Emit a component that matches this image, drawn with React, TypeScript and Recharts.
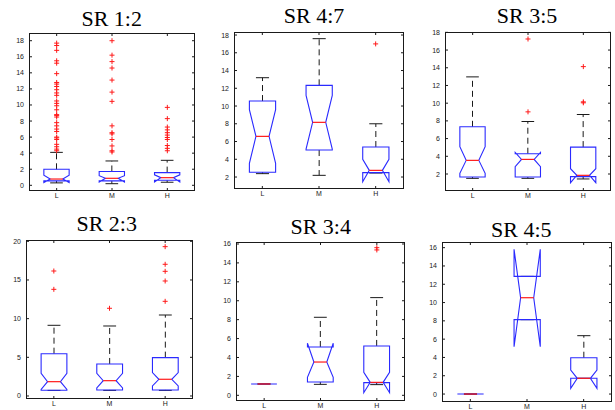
import React from 'react';
import { ComposedChart, Bar, Scatter, XAxis, YAxis, CartesianGrid } from 'recharts';

const categories = ['L', 'M', 'H'];
const titles = ['SR 1:2', 'SR 4:7', 'SR 3:5', 'SR 2:3', 'SR 3:4', 'SR 4:5'];

const ticks0to18 = [0, 2, 4, 6, 8, 10, 12, 14, 16, 18];
const ticks2to18 = [2, 4, 6, 8, 10, 12, 14, 16, 18];
const ticks0to20 = [0, 5, 10, 15, 20];
const ticks0to16 = [0, 2, 4, 6, 8, 10, 12, 14, 16];

// SR 1:2
const sr12WhiskerLow = [0.3, 0.2, 0.38];
const sr12Q1 = [0.55, 0.55, 0.62];
const sr12NotchLow = [0.35, 0.4, 0.42];
const sr12Median = [0.78, 0.87, 0.95];
const sr12NotchHigh = [1.25, 1.2, 1.3];
const sr12Q3 = [1.99, 1.72, 1.58];
const sr12WhiskerHigh = [4.1, 3.03, 3.11];
const sr12OutL = [17.7, 17.4, 16.8, 15.5, 15.2, 13.9, 12.8, 12.6, 12.3, 11.9, 11.5, 11.2, 10.5, 10.2, 9.9, 9.4, 8.8, 8.7, 8.5, 7.8, 7.4, 7.0, 6.7, 6.0, 5.9, 5.7, 5.1, 4.8, 4.5, 4.3];
const sr12OutM = [18.0, 16.2, 15.4, 14.6, 13.1, 11.6, 10.45, 7.4, 6.55, 6.4, 5.7, 4.9, 4.3, 4.15];
const sr12OutH = [9.7, 8.3, 7.25, 6.9, 6.55, 6.25, 5.95, 5.7, 4.95, 4.6, 4.3];

// SR 4:7
const sr47WhiskerLow = [2.38, 2.19, 2.45];
const sr47Q1 = [2.53, 5.04, 2.49];
const sr47NotchLow = [3.55, 5.15, 1.47];
const sr47Median = [6.58, 8.16, 2.75];
const sr47NotchHigh = [9.6, 11.2, 4.0];
const sr47Q3 = [10.56, 12.33, 5.38];
const sr47WhiskerHigh = [13.19, 17.59, 8.0];
const sr47OutL: number[] = [];
const sr47OutM: number[] = [];
const sr47OutH = [17.0];

// SR 3:5
const sr35WhiskerLow = [1.51, 1.51, 1.44];
const sr35Q1 = [1.66, 1.66, 1.7];
const sr35NotchLow = [2.07, 2.83, 1.02];
const sr35Median = [3.54, 3.65, 1.85];
const sr35NotchHigh = [5.08, 4.44, 2.6];
const sr35Q3 = [7.33, 4.29, 5.04];
const sr35WhiskerHigh = [12.97, 7.93, 8.72];
const sr35OutL: number[] = [];
const sr35OutM = [17.25, 9.02];
const sr35OutH = [14.13, 10.15, 10.04];

// SR 2:3
const sr23WhiskerLow = [0.72, 0.72, 0.72];
const sr23Q1 = [0.75, 0.78, 0.78];
const sr23NotchLow = [0.85, 1.05, 1.3];
const sr23Median = [1.85, 1.98, 2.16];
const sr23NotchHigh = [2.93, 2.93, 3.02];
const sr23Q3 = [5.47, 4.14, 4.96];
const sr23WhiskerHigh = [9.14, 9.05, 10.47];
const sr23OutL = [16.16, 13.79];
const sr23OutM = [11.34];
const sr23OutH = [19.31, 17.03, 16.12, 14.87, 12.24];

// SR 3:4
const sr34WhiskerLow = [1.2, 1.16, 1.13];
const sr34Q1 = [1.2, 1.41, 1.34];
const sr34NotchLow = [1.2, 1.9, 0.28];
const sr34Median = [1.2, 3.52, 1.37];
const sr34NotchHigh = [1.2, 5.5, 2.43];
const sr34Q3 = [1.2, 5.11, 5.22];
const sr34WhiskerHigh = [1.2, 8.25, 10.33];
const sr34OutL: number[] = [];
const sr34OutM: number[] = [];
const sr34OutH = [15.61, 15.37];

// SR 4:5
const sr45WhiskerLow = [0, 8.13, 1.72];
const sr45Q1 = [0, 8.13, 1.72];
const sr45NotchLow = [0, 5.17, 0.62];
const sr45Median = [0, 10.53, 1.72];
const sr45NotchHigh = [0, 15.82, 2.62];
const sr45Q3 = [0, 12.86, 3.97];
const sr45WhiskerHigh = [0, 12.86, 6.38];
const sr45OutL: number[] = [];
const sr45OutM: number[] = [];
const sr45OutH: number[] = [];

type Stats = {
  wlo: number[]; q1: number[]; nlo: number[]; med: number[]; nhi: number[]; q3: number[]; whi: number[];
  out: number[][];
};

const panelStats: Stats[] = [
  { wlo: sr12WhiskerLow, q1: sr12Q1, nlo: sr12NotchLow, med: sr12Median, nhi: sr12NotchHigh, q3: sr12Q3, whi: sr12WhiskerHigh, out: [sr12OutL, sr12OutM, sr12OutH] },
  { wlo: sr47WhiskerLow, q1: sr47Q1, nlo: sr47NotchLow, med: sr47Median, nhi: sr47NotchHigh, q3: sr47Q3, whi: sr47WhiskerHigh, out: [sr47OutL, sr47OutM, sr47OutH] },
  { wlo: sr35WhiskerLow, q1: sr35Q1, nlo: sr35NotchLow, med: sr35Median, nhi: sr35NotchHigh, q3: sr35Q3, whi: sr35WhiskerHigh, out: [sr35OutL, sr35OutM, sr35OutH] },
  { wlo: sr23WhiskerLow, q1: sr23Q1, nlo: sr23NotchLow, med: sr23Median, nhi: sr23NotchHigh, q3: sr23Q3, whi: sr23WhiskerHigh, out: [sr23OutL, sr23OutM, sr23OutH] },
  { wlo: sr34WhiskerLow, q1: sr34Q1, nlo: sr34NotchLow, med: sr34Median, nhi: sr34NotchHigh, q3: sr34Q3, whi: sr34WhiskerHigh, out: [sr34OutL, sr34OutM, sr34OutH] },
  { wlo: sr45WhiskerLow, q1: sr45Q1, nlo: sr45NotchLow, med: sr45Median, nhi: sr45NotchHigh, q3: sr45Q3, whi: sr45WhiskerHigh, out: [sr45OutL, sr45OutM, sr45OutH] },
];

// layout: frame (page px), axis domain, ticks, title position
const panelLayout = [
  { l: 29, t: 33, r: 195, b: 191, domain: [-0.71, 18.96], ticks: ticks0to18, tx: 111.7, ty: 26 },
  { l: 234, t: 32, r: 404, b: 189, domain: [0.65, 18.34], ticks: ticks2to18, tx: 314, ty: 22.7 },
  { l: 445, t: 32, r: 611, b: 191, domain: [0.08, 18.04], ticks: ticks2to18, tx: 527, ty: 23.3 },
  { l: 26, t: 240, r: 193, b: 399, domain: [-0.39, 20.17], ticks: ticks0to20, tx: 106.7, ty: 231 },
  { l: 236, t: 242, r: 405, b: 401, domain: [-0.6, 16.21], ticks: ticks0to16, tx: 320.7, ty: 234.3 },
  { l: 442, t: 242, r: 612, b: 402, domain: [-0.87, 16.62], ticks: ticks0to16, tx: 521.3, ty: 236.7 },
];

const BLUE = '#2a2aff';
const RED = '#ff1a1a';
const INK = '#1a1a1a';
const YW = 30;
const XH = 20;
const MT = 6;
const SANS = "'Liberation Sans', Arial, sans-serif";
const SERIF = "'Liberation Serif', 'Times New Roman', 'DejaVu Serif', serif";

const BoxShape = (props: any) => {
  const { x, y, width, height, payload, dom } = props;
  const [d0, d1] = dom;
  const py = (v: number) => y + (height * (d1 - v)) / (d1 - d0);
  const cx = x + width / 2;
  const bw = width * 0.46;
  const hw = bw / 2;
  const iw = bw / 4;
  const cw = bw * 0.25;
  const { wlo, q1, nlo, med, nhi, q3, whi } = payload;
  const L = cx - hw;
  const R = cx + hw;
  const pts = [
    [L, py(q1)], [L, py(nlo)], [cx - iw, py(med)], [L, py(nhi)], [L, py(q3)],
    [R, py(q3)], [R, py(nhi)], [cx + iw, py(med)], [R, py(nlo)], [R, py(q1)],
  ].map((p) => p.join(',')).join(' ');
  return (
    <g>
      {whi > q3 && <line x1={cx} x2={cx} y1={py(q3)} y2={py(whi)} stroke={INK} strokeDasharray="6 4" />}
      {wlo < q1 && <line x1={cx} x2={cx} y1={py(q1)} y2={py(wlo)} stroke={INK} strokeDasharray="6 4" />}
      <line x1={cx - cw} x2={cx + cw} y1={py(whi)} y2={py(whi)} stroke={INK} />
      <line x1={cx - cw} x2={cx + cw} y1={py(wlo)} y2={py(wlo)} stroke={INK} />
      <polygon points={pts} fill="none" stroke={BLUE} strokeWidth={1.1} />
      <line x1={cx - iw} x2={cx + iw} y1={py(med)} y2={py(med)} stroke={RED} strokeWidth={1.2} />
    </g>
  );
};

const Plus = (props: any) => {
  const { cx, cy } = props;
  if (cx == null || cy == null) return null;
  const s = 2.5;
  return (
    <g>
      <line x1={cx - s} x2={cx + s} y1={cy} y2={cy} stroke={RED} />
      <line x1={cx} x2={cx} y1={cy - s} y2={cy + s} stroke={RED} />
    </g>
  );
};

const Panel = ({ idx }: { idx: number }) => {
  const lay = panelLayout[idx];
  const st = panelStats[idx];
  const PW = lay.r - lay.l;
  const PH = lay.b - lay.t;
  const W = YW + PW + 2;
  const H = MT + PH + XH;
  const rows = categories.map((cat, i) => ({
    cat,
    wlo: st.wlo[i], q1: st.q1[i], nlo: st.nlo[i], med: st.med[i], nhi: st.nhi[i], q3: st.q3[i], whi: st.whi[i],
    span: lay.domain,
  }));
  const outRows = categories.flatMap((cat, i) => st.out[i].map((v) => ({ cat, v })));

  const YTick = (p: any) => {
    const yy = p.y;
    return (
      <g>
        <text x={YW - 5} y={yy} dy={2.5} textAnchor="end" fontSize={7} fontFamily={SANS} fill={INK}>
          {p.payload.value}
        </text>
        <line x1={YW} x2={YW + 3} y1={yy} y2={yy} stroke={INK} />
        <line x1={YW + PW - 3} x2={YW + PW} y1={yy} y2={yy} stroke={INK} />
      </g>
    );
  };
  const XTick = (p: any) => {
    const xx = p.x;
    return (
      <g>
        <text x={xx} y={MT + PH + 7} textAnchor="middle" fontSize={7} fontFamily={SANS} fill={INK}>
          {p.payload.value}
        </text>
        <line x1={xx} x2={xx} y1={MT + PH} y2={MT + PH - 3} stroke={INK} />
        <line x1={xx} x2={xx} y1={MT} y2={MT + 3} stroke={INK} />
      </g>
    );
  };

  return (
    <div style={{ position: 'absolute', left: lay.l - YW, top: lay.t - MT, width: W, height: H }}>
      <ComposedChart width={W} height={H} data={rows} margin={{ top: MT, right: 2, bottom: 0, left: 0 }} barCategoryGap="0%">
        <CartesianGrid
          stroke={INK}
          strokeDasharray=""
          horizontalCoordinatesGenerator={() => [MT + 0.5, MT + PH - 0.5]}
          verticalCoordinatesGenerator={() => [YW + 0.5, YW + PW - 0.5]}
        />
        <XAxis dataKey="cat" allowDuplicatedCategory={false} height={XH} axisLine={false} tickLine={false} tick={<XTick />} interval={0} />
        <YAxis width={YW} type="number" domain={lay.domain} ticks={lay.ticks} axisLine={false} tickLine={false} tick={<YTick />} interval={0} />
        <Bar dataKey="span" isAnimationActive={false} shape={(p: any) => <BoxShape {...p} dom={lay.domain} />} />
        <Scatter data={outRows} dataKey="v" isAnimationActive={false} shape={<Plus />} />
      </ComposedChart>
    </div>
  );
};

export default function App() {
  return (
    <div style={{ position: 'absolute', left: 0, top: 0, width: 615, height: 410, overflow: 'hidden', background: '#fff' }}>
      {panelLayout.map((_, i) => (
        <Panel key={i} idx={i} />
      ))}
      <svg width={615} height={410} style={{ position: 'absolute', left: 0, top: 0, pointerEvents: 'none' }}>
        {panelLayout.map((lay, i) => (
          <text key={i} x={lay.tx} y={lay.ty} textAnchor="middle" fontSize={22} fontFamily={SERIF} fill="#000">
            {titles[i]}
          </text>
        ))}
      </svg>
    </div>
  );
}
